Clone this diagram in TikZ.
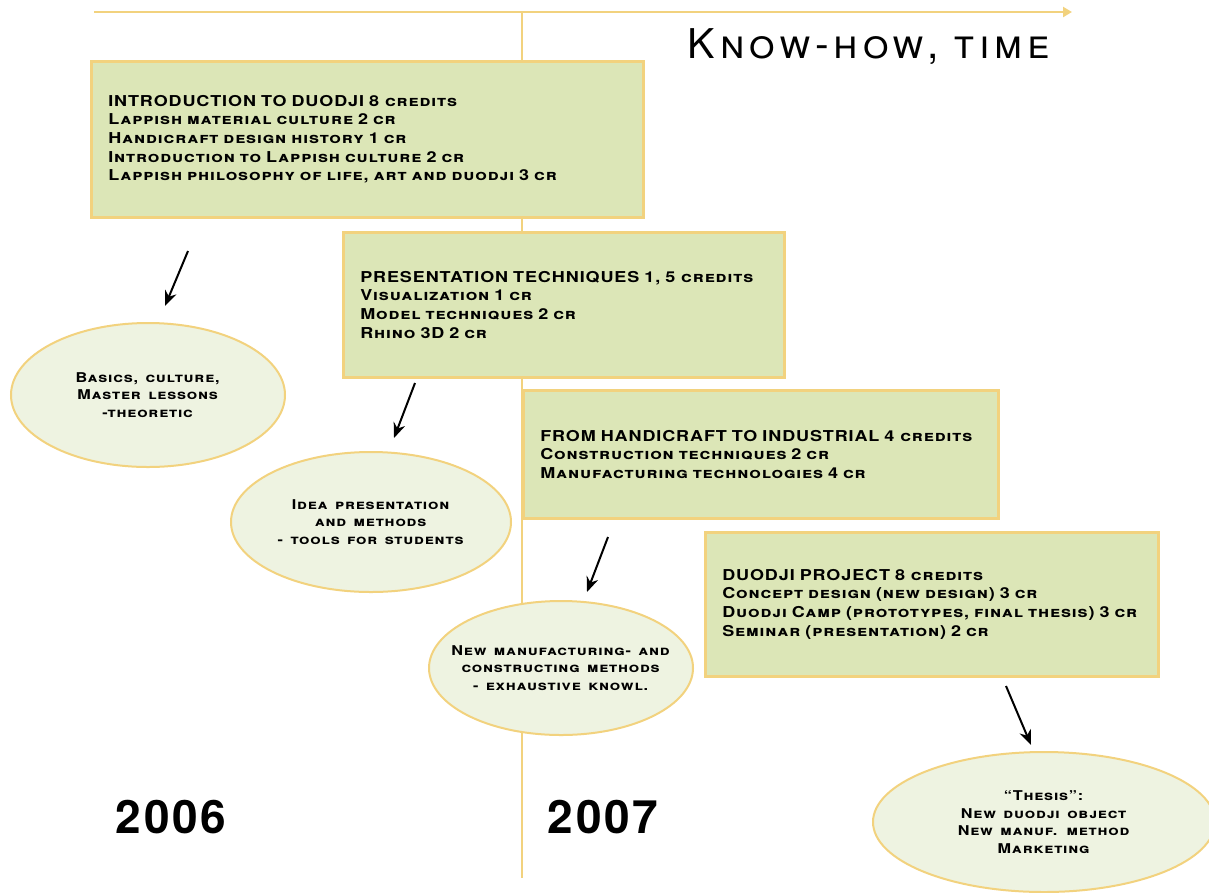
\documentclass[tikz,border=0pt]{standalone}
\usepackage{fontspec}
\setmainfont{TeX Gyre Heros}
\newfontfamily\platefont{TeX Gyre Heros}[FakeStretch=1.2, LetterSpace=6, WordSpace=1.4, Ligatures=TeX]
\newfontfamily\titlefont{TeX Gyre Heros}[LetterSpace=12]
\newfontfamily\yearfont{TeX Gyre Heros}[LetterSpace=6]
\usetikzlibrary{positioning, arrows.meta, shapes.geometric}
\definecolor{boxgreen}{HTML}{DCE6B7}
\definecolor{ovalgreen}{HTML}{EEF3E1}
\definecolor{rulegold}{HTML}{F2D27E}

\begin{document}
\begin{tikzpicture}[%
		x=1pt, y=-1pt,
		course/.style={
			rectangle,
			draw=rulegold,
			line width=2.5pt,
			fill=boxgreen,
			anchor=north west,
			align=left,
			inner xsep=17pt,
			inner ysep=0pt,
			font=\platefont\bfseries\fontsize{15}{18.7}\selectfont
		},
		outcome/.style={
			ellipse,
			draw=rulegold,
			line width=2pt,
			fill=ovalgreen,
			align=center,
			inner xsep=-80pt,
			inner ysep=-20pt,
			font=\platefont\bfseries\fontsize{13.5}{17.5}\selectfont
		},
		year/.style={
			font=\yearfont\bfseries\fontsize{46}{46}\selectfont
		},
		timeline/.style={
			draw=rulegold,
			line width=2.5pt
		},
		stepto/.style={
			line width=2pt,
			-{Stealth[length=15pt, width=12pt]}
		}]

		\useasboundingbox (0,0) rectangle (1209,892);

		% TIME AXES

		\coordinate (t0) at (94,12);
		\coordinate (t1) at (1072,12);
		\coordinate (mid0) at (522,12);
		\coordinate (mid1) at (522,878);
		\draw[timeline, -{Triangle[length=9pt, width=10pt]}] (t0) -- (t1);
		\draw[timeline, line width=2pt] (mid0) -- (mid1);

		\node (title) at (869,47) {\titlefont\scshape\fontsize{41}{41}\selectfont Know-how, time};

		% COURSES

		\node (intro) [course, text width=518pt, minimum height=156pt] at (90,60) {%
			INTRODUCTION TO DUODJI 8 \textsc{credits}\\
			\textsc{Lappish material culture 2 cr}\\
			\textsc{Handicraft design history 1 cr}\\
			\textsc{Introduction to Lappish culture 2 cr}\\
			\textsc{Lappish philosophy of life, art and duodji 3 cr}};
		\node (present) [course, text width=407pt, minimum height=145pt] at (342,231) {%
			PRESENTATION TECHNIQUES 1, 5 \textsc{credits}\\
			\textsc{Visualization 1 cr}\\
			\textsc{Model techniques 2 cr}\\
			\textsc{Rhino 3D 2 cr}};
		\node (industry) [course, text width=441pt, minimum height=128pt] at (522,389) {%
			FROM HANDICRAFT TO INDUSTRIAL 4 \textsc{credits}\\
			\textsc{Construction techniques 2 cr}\\
			\textsc{Manufacturing technologies 4 cr}};
		\node (project) [course, text width=419pt, minimum height=144pt] at (704,531) {%
			DUODJI PROJECT 8 \textsc{credits}\\
			\textsc{Concept design (new design) 3 cr}\\
			\textsc{Duodji Camp (prototypes, final thesis) 3 cr}\\
			\textsc{Seminar (presentation) 2 cr}};

		% OUTCOMES

		\node (basics) [outcome, minimum width=274pt, minimum height=144pt] at (148,395) {%
			\textsc{Basics, culture,}\\ \textsc{Master lessons}\\ \textsc{-theoretic}};
		\node (ideas) [outcome, minimum width=280pt, minimum height=140pt] at (371,522) {%
			\textsc{Idea presentation}\\ \textsc{and methods}\\ \textsc{- tools for students}};
		\node (methods) [outcome, minimum width=264pt, minimum height=134pt] at (561,668) {%
			\textsc{New manufacturing- and}\\ \textsc{constructing methods}\\ \textsc{- exhaustive knowl.}};
		\node (thesis) [outcome, minimum width=342pt, minimum height=140pt] at (1044,822) {%
			\textsc{“Thesis”:}\\ \textsc{New duodji object}\\ \textsc{New manuf. method}\\ \textsc{Marketing}};

		% ARROWS

		\coordinate (a1) at (188,251);
		\coordinate (b1) at (165,306);
		\coordinate (a2) at (415,383);
		\coordinate (b2) at (394,438);
		\coordinate (a3) at (608,537);
		\coordinate (b3) at (587,592);
		\coordinate (a4) at (1006,686);
		\coordinate (b4) at (1031,745);
		\draw[stepto] (a1) -- (b1);
		\draw[stepto] (a2) -- (b2);
		\draw[stepto] (a3) -- (b3);
		\draw[stepto] (a4) -- (b4);

		% YEARS

		\node (y2006) [year] at (171,817) {2006};
		\node (y2007) [year] at (603,817) {2007};
\end{tikzpicture}
\end{document}
